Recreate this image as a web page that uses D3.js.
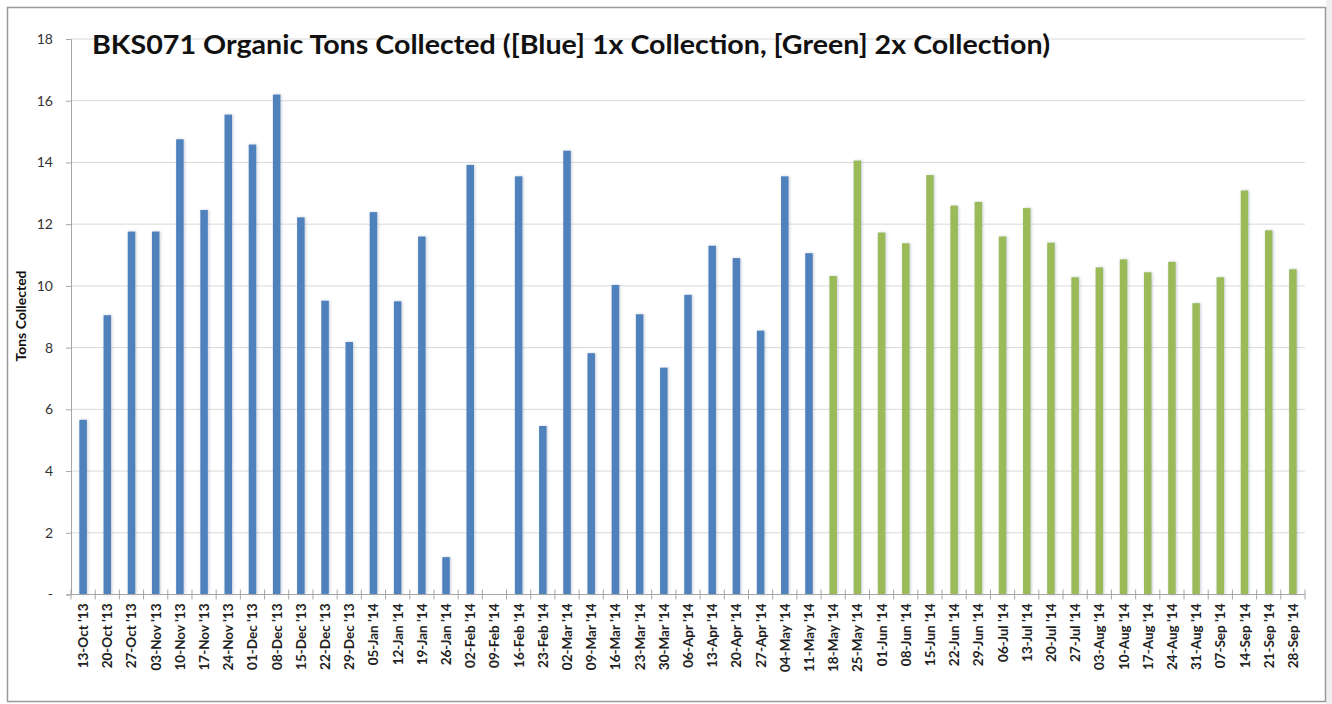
<!DOCTYPE html>
<html>
<head>
<meta charset="utf-8">
<script src="https://cdn.jsdelivr.net/npm/d3@7"></script>
<style>
    body { margin: 0; background: #fff; }
    svg { display: block; font-family: Lato, "Open Sans", sans-serif; }
</style>
</head>
<body>
<div id="chart"></div>
<script>
// weekly collection dates
const weeks = [
    "13-Oct '13", "20-Oct '13", "27-Oct '13", "03-Nov '13", "10-Nov '13", "17-Nov '13", "24-Nov '13",
    "01-Dec '13", "08-Dec '13", "15-Dec '13", "22-Dec '13", "29-Dec '13", "05-Jan '14", "12-Jan '14",
    "19-Jan '14", "26-Jan '14", "02-Feb '14", "09-Feb '14", "16-Feb '14", "23-Feb '14", "02-Mar '14",
    "09-Mar '14", "16-Mar '14", "23-Mar '14", "30-Mar '14", "06-Apr '14", "13-Apr '14", "20-Apr '14",
    "27-Apr '14", "04-May '14", "11-May '14", "18-May '14", "25-May '14", "01-Jun '14", "08-Jun '14",
    "15-Jun '14", "22-Jun '14", "29-Jun '14", "06-Jul '14", "13-Jul '14", "20-Jul '14", "27-Jul '14",
    "03-Aug '14", "10-Aug '14", "17-Aug '14", "24-Aug '14", "31-Aug '14", "07-Sep '14", "14-Sep '14",
    "21-Sep '14", "28-Sep '14"
];

// tons collected each week
const tons = [
    5.66, 9.05, 11.76, 11.76, 14.75, 12.46, 15.55,
    14.58, 16.2, 12.22, 9.52, 8.18, 12.39, 9.5,
    11.6, 1.21, 13.92, 0, 13.55, 5.46, 14.38,
    7.82, 10.03, 9.08, 7.35, 9.71, 11.3, 10.9,
    8.55, 13.55, 11.06, 10.32, 14.06, 11.73, 11.38,
    13.59, 12.6, 12.72, 11.6, 12.52, 11.4, 10.28,
    10.6, 10.86, 10.44, 10.78, 9.44, 10.28, 13.09,
    11.8, 10.54
];

// collection frequency: 1x up to 11-May, 2x after
const frequency = weeks.map((w, i) => i <= 30 ? "1x" : "2x");

const yTicks = [0, 2, 4, 6, 8, 10, 12, 14, 16, 18];

const width = 1332, height = 704;
const margin = { top: 39, right: 27, bottom: 109.5, left: 71 };

const svg = d3.select("#chart").append("svg")
    .attr("width", width)
    .attr("height", height);

// soft shadow like the excel bars
const defs = svg.append("defs");
const shadow = defs.append("filter").attr("id", "barShadow")
    .attr("x", "-100%").attr("y", "-5%").attr("width", "300%").attr("height", "110%");
shadow.append("feDropShadow")
    .attr("dx", 1).attr("dy", 0)
    .attr("stdDeviation", 1.8)
    .attr("flood-color", "#8090a8")
    .attr("flood-opacity", 0.45);

// outer frame
svg.append("rect")
    .attr("x", 1326).attr("y", 0).attr("width", 6).attr("height", height)
    .attr("fill", "#f0f0f0");
svg.append("rect")
    .attr("x", 7.5).attr("y", 7.5)
    .attr("width", 1318).attr("height", 694)
    .attr("fill", "#fff")
    .attr("stroke", "#9a9a9a")
    .attr("stroke-width", 1.5);

const x = d3.scaleBand()
    .domain(weeks)
    .range([margin.left, width - margin.right])
    .padding(0);

const y = d3.scaleLinear()
    .domain([0, 18])
    .range([height - margin.bottom, margin.top]);

const color = d3.scaleOrdinal()
    .domain(["1x", "2x"])
    .range(["#4f81bd", "#9bbb59"]);

// gridlines
svg.append("g")
    .selectAll("line")
    .data(yTicks.filter(d => d > 0))
    .join("line")
    .attr("x1", margin.left).attr("x2", width - margin.right)
    .attr("y1", d => y(d)).attr("y2", d => y(d))
    .attr("stroke", "#d9d9d9")
    .attr("stroke-width", 1);

// y axis
const yAxis = svg.append("g")
    .attr("transform", `translate(${margin.left},0)`)
    .call(d3.axisLeft(y).tickValues(yTicks).tickSize(5).tickPadding(13)
        .tickFormat(d => d === 0 ? "-" : d));
yAxis.select(".domain").attr("stroke", "#a6a6a6");
yAxis.selectAll(".tick line").attr("stroke", "#a6a6a6");
yAxis.selectAll(".tick text")
    .attr("font-size", 14)
    .attr("font-family", "Lato, sans-serif")
    .attr("fill", "#333");

// bars
const barW = x.bandwidth() * 0.31;
svg.append("g")
    .selectAll("rect")
    .data(weeks.map((w, i) => ({ week: w, value: tons[i], freq: frequency[i] })).filter(d => d.value > 0))
    .join("rect")
    .attr("x", d => x(d.week) + (x.bandwidth() - barW) / 2)
    .attr("y", d => y(d.value))
    .attr("width", barW)
    .attr("height", d => y(0) - y(d.value))
    .attr("fill", d => color(d.freq))
    .attr("filter", "url(#barShadow)");

// x axis, ticks on band boundaries crossing the axis line
const xAxis = svg.append("g").attr("transform", `translate(0,${y(0)})`);
xAxis.append("line")
    .attr("x1", margin.left).attr("x2", width - margin.right)
    .attr("stroke", "#a6a6a6");
xAxis.selectAll("line.tick")
    .data(weeks.concat(["end"]))
    .join("line")
    .classed("tick", true)
    .attr("x1", (d, i) => margin.left + i * x.bandwidth())
    .attr("x2", (d, i) => margin.left + i * x.bandwidth())
    .attr("y1", -5).attr("y2", 5)
    .attr("stroke", "#a6a6a6");
xAxis.selectAll("text")
    .data(weeks)
    .join("text")
    .attr("transform", d => `translate(${x(d) + x.bandwidth() / 2 + 5},9) rotate(-90)`)
    .attr("text-anchor", "end")
    .attr("font-size", 13.5)
    .attr("font-weight", "bold")
    .attr("fill", "#222")
    .text(d => d);

// y axis title
svg.append("text")
    .attr("transform", "translate(26,316) rotate(-90)")
    .attr("text-anchor", "middle")
    .attr("font-size", 14)
    .attr("font-weight", "bold")
    .attr("fill", "#111")
    .text("Tons Collected");

// chart title
svg.append("text")
    .attr("x", 92).attr("y", 54)
    .attr("font-size", 26)
    .attr("font-weight", "bold")
    .attr("fill", "#111")
    .attr("textLength", 958)
    .attr("lengthAdjust", "spacingAndGlyphs")
    .text("BKS071 Organic Tons Collected ([Blue] 1x Collection, [Green] 2x Collection)");
</script>
</body>
</html>
